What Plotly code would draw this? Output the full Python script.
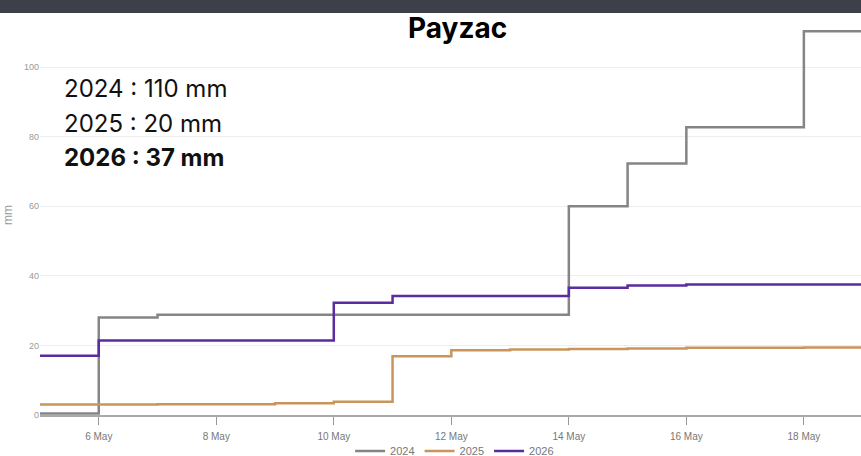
import plotly.graph_objects as go

days = ["2026-05-%02d" % d for d in range(5, 20)]
rain_2024 = [0.4, 28, 28.8, 28.8, 28.8, 28.8, 28.8, 28.8, 28.8, 60, 72.3, 82.7, 82.7, 110.3, 110.3]
rain_2025 = [3.0, 3.0, 3.1, 3.1, 3.4, 3.8, 16.9, 18.6, 18.8, 19.0, 19.1, 19.3, 19.3, 19.4, 19.5]
rain_2026 = [17.0, 21.4, 21.4, 21.4, 21.4, 32.3, 34.2, 34.2, 34.2, 36.6, 37.2, 37.5, 37.5, 37.5, 37.5]
series_names = ["2024", "2025", "2026"]
series_colors = ["#858585", "#c9955b", "#5a2ca0"]
totals = ["2024 : 110 mm", "2025 : 20 mm", "<b>2026 : 37 mm</b>"]
title_text = "Payzac"
y_ticks = [0, 20, 40, 60, 80, 100]

fig = go.Figure()
for name, vals, col in zip(series_names, [rain_2024, rain_2025, rain_2026], series_colors):
    fig.add_trace(go.Scatter(x=days, y=vals, name=name, mode="lines",
                             line=dict(color=col, width=2.5, shape="hv")))

fig.add_shape(type="rect", xref="paper", yref="paper", x0=-0.1, x1=1.1, y0=1.005, y1=1.2,
              fillcolor="#3d4049", line=dict(width=0), layer="above")

ann_y = [0.8175, 0.7275, 0.645]
for t, yy in zip(totals, ann_y):
    fig.add_annotation(text=t, xref="paper", yref="paper", x=0.027, y=yy,
                       xanchor="left", yanchor="middle", showarrow=False,
                       font=dict(family="Inter", size=24, color="#111111"))

fig.add_annotation(text="<b>" + title_text + "</b>", xref="paper", yref="paper",
                   x=0.5085, y=0.967, xanchor="center", yanchor="middle", showarrow=False,
                   font=dict(family="Inter", size=28, color="#000000"))

fig.update_layout(
    width=861, height=456,
    margin=dict(l=40, r=0, t=15, b=41, autoexpand=False),
    paper_bgcolor="white", plot_bgcolor="white",
    showlegend=True,
    legend=dict(orientation="h", x=0.505, xref="paper", y=0.011, yref="container",
                xanchor="center", yanchor="middle",
                font=dict(family="Arial", size=11, color="#777777"), itemwidth=30,
                bgcolor="rgba(0,0,0,0)"),
    xaxis=dict(type="date", range=["2026-05-05", "2026-05-18 23:20"],
               tick0="2026-05-06", dtick=2 * 86400000, tickformat="%-d May",
               ticks="outside", ticklen=8, tickcolor="#999999", ticklabelstandoff=3,
               showline=True, linecolor="#aaaaaa", linewidth=1.5,
               showgrid=False, tickfont=dict(family="Arial", size=10, color="#777777")),
    yaxis=dict(range=[0, 115], tickvals=y_ticks, showgrid=True, gridcolor="#eeeeee",
               zeroline=False, showline=False, ticks="",
               title=dict(text="mm", standoff=8, font=dict(family="Arial", size=12, color="#999999")),
               tickfont=dict(family="Arial", size=9, color="#999999")),
)

fig.write_html("out.html", config={"displayModeBar": False},
               post_script="document.body.style.margin='0';")
